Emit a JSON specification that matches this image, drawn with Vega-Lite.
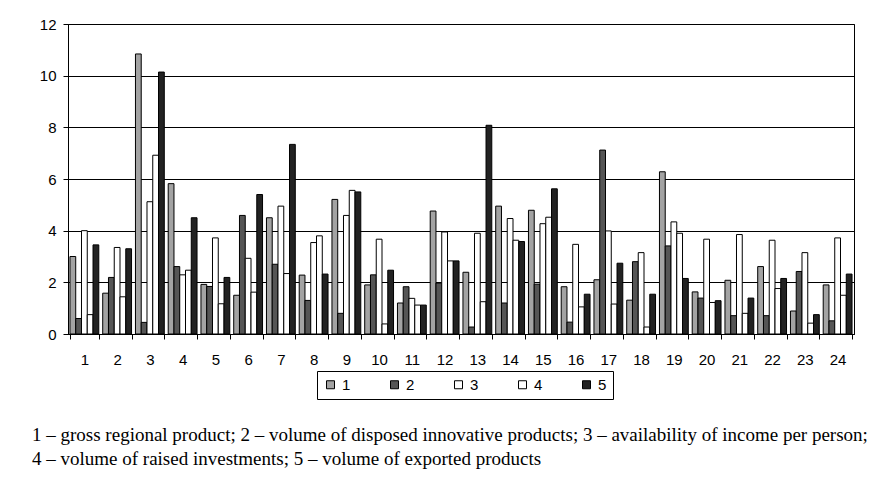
{
  "$schema": "https://vega.github.io/schema/vega-lite/v6.json",
  "width": 786,
  "height": 310,
  "autosize": {"type": "none"},
  "padding": {"left": 68, "top": 24, "right": 25, "bottom": 157},
  "background": "white",
  "config": {
    "view": {"stroke": "black", "strokeWidth": 1},
    "font": "Liberation Sans"
  },
  "title": {
    "text": ["1 – gross regional product; 2 – volume of disposed innovative products; 3 – availability of income per person;", "4 – volume of raised investments; 5 – volume of exported products"],
    "orient": "bottom",
    "anchor": "start",
    "frame": "group",
    "font": "Liberation Serif",
    "fontSize": 19,
    "fontWeight": "normal",
    "color": "black",
    "lineHeight": 24,
    "offset": 26,
    "dx": -36
  },
  "data": {"values": [
    {"g":1,"s":"1","v":3.0},{"g":1,"s":"2","v":0.6},{"g":1,"s":"3","v":4.0},{"g":1,"s":"4","v":0.75},{"g":1,"s":"5","v":3.45},
    {"g":2,"s":"1","v":1.58},{"g":2,"s":"2","v":2.19},{"g":2,"s":"3","v":3.35},{"g":2,"s":"4","v":1.44},{"g":2,"s":"5","v":3.3},
    {"g":3,"s":"1","v":10.84},{"g":3,"s":"2","v":0.45},{"g":3,"s":"3","v":5.12},{"g":3,"s":"4","v":6.92},{"g":3,"s":"5","v":10.14},
    {"g":4,"s":"1","v":5.82},{"g":4,"s":"2","v":2.61},{"g":4,"s":"3","v":2.29},{"g":4,"s":"4","v":2.47},{"g":4,"s":"5","v":4.5},
    {"g":5,"s":"1","v":1.92},{"g":5,"s":"2","v":1.84},{"g":5,"s":"3","v":3.72},{"g":5,"s":"4","v":1.17},{"g":5,"s":"5","v":2.19},
    {"g":6,"s":"1","v":1.5},{"g":6,"s":"2","v":4.59},{"g":6,"s":"3","v":2.93},{"g":6,"s":"4","v":1.62},{"g":6,"s":"5","v":5.4},
    {"g":7,"s":"1","v":4.5},{"g":7,"s":"2","v":2.7},{"g":7,"s":"3","v":4.95},{"g":7,"s":"4","v":2.34},{"g":7,"s":"5","v":7.34},
    {"g":8,"s":"1","v":2.28},{"g":8,"s":"2","v":1.3},{"g":8,"s":"3","v":3.54},{"g":8,"s":"4","v":3.8},{"g":8,"s":"5","v":2.32},
    {"g":9,"s":"1","v":5.21},{"g":9,"s":"2","v":0.8},{"g":9,"s":"3","v":4.59},{"g":9,"s":"4","v":5.56},{"g":9,"s":"5","v":5.5},
    {"g":10,"s":"1","v":1.9},{"g":10,"s":"2","v":2.29},{"g":10,"s":"3","v":3.67},{"g":10,"s":"4","v":0.39},{"g":10,"s":"5","v":2.47},
    {"g":11,"s":"1","v":1.2},{"g":11,"s":"2","v":1.83},{"g":11,"s":"3","v":1.38},{"g":11,"s":"4","v":1.12},{"g":11,"s":"5","v":1.12},
    {"g":12,"s":"1","v":4.76},{"g":12,"s":"2","v":1.97},{"g":12,"s":"3","v":3.95},{"g":12,"s":"4","v":2.83},{"g":12,"s":"5","v":2.83},
    {"g":13,"s":"1","v":2.39},{"g":13,"s":"2","v":0.27},{"g":13,"s":"3","v":3.9},{"g":13,"s":"4","v":1.25},{"g":13,"s":"5","v":8.08},
    {"g":14,"s":"1","v":4.95},{"g":14,"s":"2","v":1.2},{"g":14,"s":"3","v":4.47},{"g":14,"s":"4","v":3.63},{"g":14,"s":"5","v":3.58},
    {"g":15,"s":"1","v":4.79},{"g":15,"s":"2","v":1.93},{"g":15,"s":"3","v":4.27},{"g":15,"s":"4","v":4.52},{"g":15,"s":"5","v":5.62},
    {"g":16,"s":"1","v":1.83},{"g":16,"s":"2","v":0.46},{"g":16,"s":"3","v":3.47},{"g":16,"s":"4","v":1.05},{"g":16,"s":"5","v":1.54},
    {"g":17,"s":"1","v":2.1},{"g":17,"s":"2","v":7.12},{"g":17,"s":"3","v":3.99},{"g":17,"s":"4","v":1.16},{"g":17,"s":"5","v":2.74},
    {"g":18,"s":"1","v":1.31},{"g":18,"s":"2","v":2.8},{"g":18,"s":"3","v":3.15},{"g":18,"s":"4","v":0.27},{"g":18,"s":"5","v":1.54},
    {"g":19,"s":"1","v":6.28},{"g":19,"s":"2","v":3.41},{"g":19,"s":"3","v":4.34},{"g":19,"s":"4","v":3.9},{"g":19,"s":"5","v":2.15},
    {"g":20,"s":"1","v":1.63},{"g":20,"s":"2","v":1.39},{"g":20,"s":"3","v":3.67},{"g":20,"s":"4","v":1.22},{"g":20,"s":"5","v":1.29},
    {"g":21,"s":"1","v":2.08},{"g":21,"s":"2","v":0.71},{"g":21,"s":"3","v":3.85},{"g":21,"s":"4","v":0.8},{"g":21,"s":"5","v":1.39},
    {"g":22,"s":"1","v":2.61},{"g":22,"s":"2","v":0.71},{"g":22,"s":"3","v":3.63},{"g":22,"s":"4","v":1.76},{"g":22,"s":"5","v":2.15},
    {"g":23,"s":"1","v":0.89},{"g":23,"s":"2","v":2.42},{"g":23,"s":"3","v":3.15},{"g":23,"s":"4","v":0.42},{"g":23,"s":"5","v":0.75},
    {"g":24,"s":"1","v":1.9},{"g":24,"s":"2","v":0.51},{"g":24,"s":"3","v":3.72},{"g":24,"s":"4","v":1.5},{"g":24,"s":"5","v":2.32}
  ]},
  "mark": {"type": "bar", "stroke": "black", "strokeWidth": 1},
  "encoding": {
    "x": {
      "field": "g", "type": "ordinal",
      "scale": {"paddingInner": 0.12, "paddingOuter": 0.06},
      "axis": {
        "title": null, "labelAngle": 0, "tickBand": "extent",
        "domainColor": "black", "tickColor": "black", "tickSize": 5,
        "labelColor": "black", "labelFontSize": 15, "labelPadding": 13,
        "labelFont": "Liberation Sans"
      }
    },
    "xOffset": {"field": "s", "type": "nominal", "scale": {"paddingInner": 0}},
    "y": {
      "field": "v", "type": "quantitative",
      "scale": {"domain": [0, 12], "nice": false},
      "axis": {
        "title": null, "values": [0, 2, 4, 6, 8, 10, 12],
        "grid": true, "gridColor": "black", "gridOpacity": 1,
        "domainColor": "black", "tickColor": "black", "tickSize": 5,
        "labelColor": "black", "labelFontSize": 15, "labelPadding": 7,
        "labelFont": "Liberation Sans"
      }
    },
    "fill": {
      "field": "s", "type": "nominal",
      "scale": {"domain": ["1", "2", "3", "4", "5"], "range": ["#a3a3a3", "#555555", "#ffffff", "#ffffff", "#222222"]},
      "legend": {
        "title": null, "orient": "none", "legendX": 249, "legendY": 347,
        "direction": "horizontal", "columns": 5, "columnPadding": 36,
        "symbolType": "square", "symbolSize": 64, "symbolStrokeColor": "black", "symbolStrokeWidth": 1,
        "labelFontSize": 15, "labelColor": "black", "labelFont": "Liberation Sans", "labelOffset": 4,
        "strokeColor": "black", "fillColor": "white", "padding": 6,
        "labelExpr": "datum.label == '5' ? '5                ' : datum.label"
      }
    }
  }
}
